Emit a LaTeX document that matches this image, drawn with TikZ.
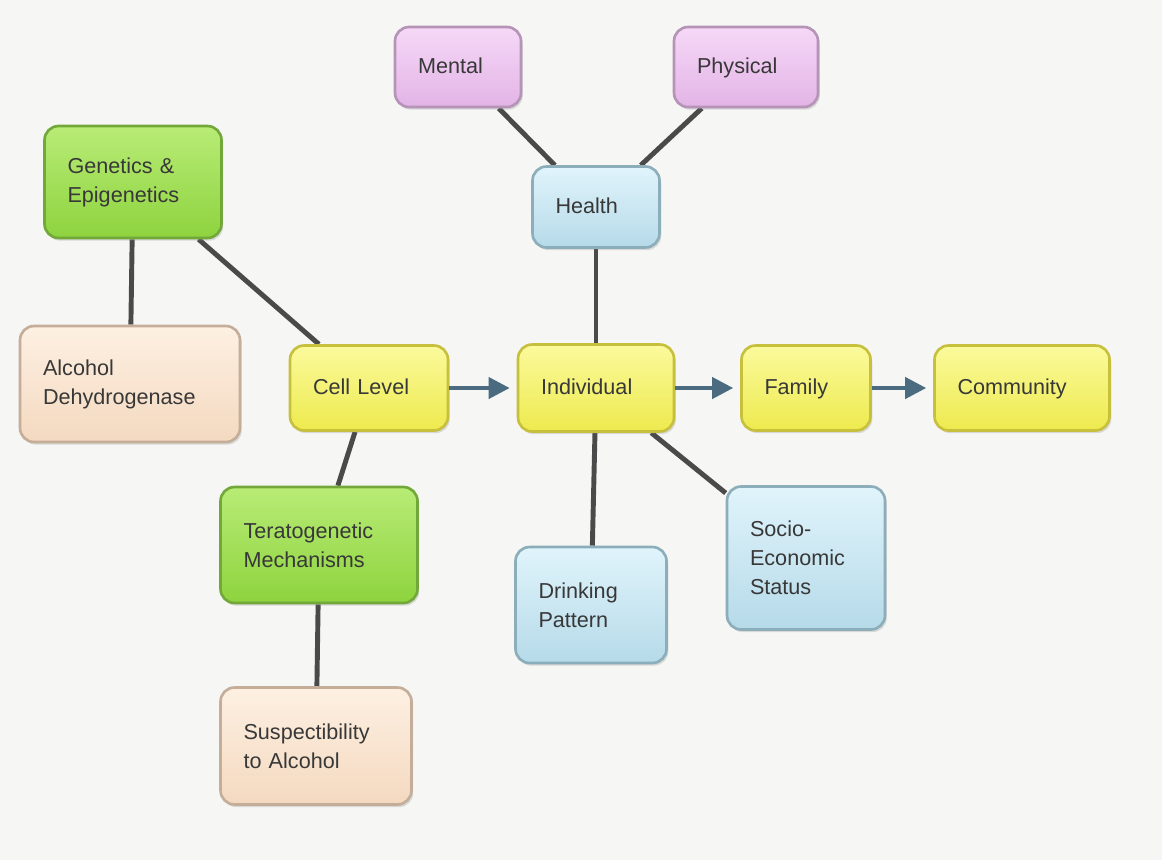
\documentclass[tikz,border=0pt]{standalone}
\usepackage{fontspec}
\setmainfont{Liberation Sans}
\usetikzlibrary{arrows.meta,backgrounds,shadows}
\definecolor{paper}{HTML}{F6F6F4}
\definecolor{txtgray}{HTML}{383838}
\definecolor{linkgray}{HTML}{4A4A4A}
\definecolor{flowblue}{HTML}{4A6B80}
\definecolor{yeltop}{HTML}{FBFA9C}
\definecolor{yelbot}{HTML}{EDEA4E}
\definecolor{yeldraw}{HTML}{C6C03C}
\definecolor{grntop}{HTML}{B8EC76}
\definecolor{grnbot}{HTML}{8ED33E}
\definecolor{grndraw}{HTML}{72A83A}
\definecolor{pchtop}{HTML}{FDF0E2}
\definecolor{pchbot}{HTML}{F4D9C0}
\definecolor{pchdraw}{HTML}{C4AE9A}
\definecolor{blutop}{HTML}{E0F4FB}
\definecolor{blubot}{HTML}{B6DAE9}
\definecolor{bludraw}{HTML}{8CAEBB}
\definecolor{prptop}{HTML}{F6D8F7}
\definecolor{prpbot}{HTML}{E2B4E6}
\definecolor{prpdraw}{HTML}{B594B8}
\begin{document}
\begin{tikzpicture}[x=0.02cm, y=-0.02cm,
  box/.style={rounded corners=8pt, line width=1.5pt, align=left, inner xsep=0.46cm,
    font=\fontsize{12.3}{16.5}\selectfont, text=txtgray,
    drop shadow={opacity=0.25, shadow xshift=1pt, shadow yshift=-1.5pt}},
  one/.style={text height=0.76em, text depth=0.04em},
  yel/.style={box, top color=yeltop, bottom color=yelbot, draw=yeldraw},
  grn/.style={box, top color=grntop, bottom color=grnbot, draw=grndraw},
  pch/.style={box, top color=pchtop, bottom color=pchbot, draw=pchdraw},
  blu/.style={box, top color=blutop, bottom color=blubot, draw=bludraw},
  prp/.style={box, top color=prptop, bottom color=prpbot, draw=prpdraw},
  link/.style={line width=2.8pt, draw=linkgray},
  flow/.style={line width=2.3pt, draw=flowblue, -{Triangle[length=12pt,width=12pt]}, shorten >=4pt}]
\node[prp, one, text width=1.6cm, minimum height=1.6cm] (mental) at (458,67){Mental};
\node[prp, one, text width=1.96cm, minimum height=1.6cm] (physical) at (746,67){Physical};
\node[blu, one, text width=1.62cm, minimum height=1.62cm] (health) at (596,207){Health};
\node[grn, text width=2.62cm, minimum height=2.24cm] (genetics) at (133,182){Genetics \&\\Epigenetics};
\node[pch, text width=3.48cm, minimum height=2.32cm] (adh) at (130,384){Alcohol\\Dehydrogenase};
\node[yel, one, text width=2.24cm, minimum height=1.7cm] (cell) at (369,388){Cell Level};
\node[yel, one, text width=2.2cm, minimum height=1.74cm] (indiv) at (596,388){Individual};
\node[yel, one, text width=1.66cm, minimum height=1.7cm] (family) at (806,388){Family};
\node[yel, one, text width=2.58cm, minimum height=1.7cm] (community) at (1022,388){Community};
\node[grn, text width=3.02cm, minimum height=2.32cm] (terato) at (319,545){Teratogenetic\\Mechanisms};
\node[pch, text width=2.9cm, minimum height=2.34cm] (suscept) at (316,746){Suspectibility\\to Alcohol};
\node[blu, text width=2.1cm, minimum height=2.32cm] (drinking) at (591,605){Drinking\\Pattern};
\node[blu, text width=2.24cm, minimum height=2.86cm] (socio) at (806,558){Socio-\\Economic\\Status};
\begin{scope}[on background layer]
\fill[paper] (0,0) rectangle (1162,860);
\draw[link] (mental) -- (health);
\draw[link] (physical) -- (health);
\draw[link] (health) -- (indiv);
\draw[link] (genetics) -- (adh);
\draw[link] (genetics) -- (cell);
\draw[link] (cell) -- (terato);
\draw[link] (terato) -- (suscept);
\draw[link] (indiv) -- (drinking);
\draw[link] (indiv) -- (socio);
\end{scope}
\draw[flow] (cell) -- (indiv);
\draw[flow] (indiv) -- (family);
\draw[flow] (family) -- (community);
\end{tikzpicture}
\end{document}
